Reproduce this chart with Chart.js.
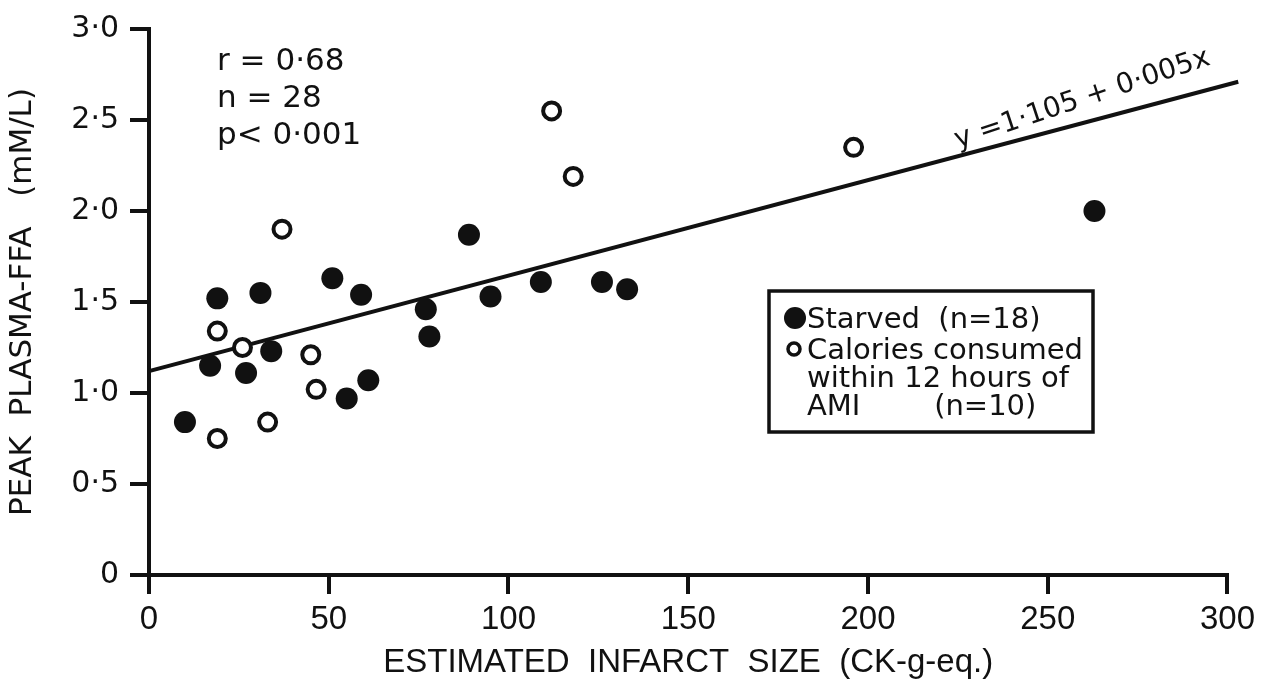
<!DOCTYPE html>
<html>
<head>
<meta charset="utf-8">
<title>Peak plasma FFA vs infarct size</title>
<script src="https://cdn.jsdelivr.net/npm/chart.js@4/dist/chart.umd.min.js"></script>
<style>
    body { margin: 0; background: #ffffff; }
    #wrap { width: 1261px; height: 685px; }
</style>
</head>
<body>
<div id="wrap"><canvas id="ffaChart" width="1261" height="685"></canvas></div>
<script>
// values
const starvedX = [10, 17, 19, 27, 31, 34, 51, 55, 59, 61, 77, 78, 89, 95, 109, 126, 133, 263];
const starvedY = [0.84, 1.15, 1.52, 1.11, 1.55, 1.23, 1.63, 0.97, 1.54, 1.07, 1.46, 1.31, 1.87, 1.53, 1.61, 1.61, 1.57, 2.00];
const fedX = [19, 19, 26, 33, 37, 45, 46.5, 112, 118, 196];
const fedY = [0.75, 1.34, 1.25, 0.84, 1.90, 1.21, 1.02, 2.55, 2.19, 2.35];
const fitX = [0, 303];
const fitY = [1.12, 2.71];
const xTickValues = [0, 50, 100, 150, 200, 250, 300];
const xTickLabels = ['0', '50', '100', '150', '200', '250', '300'];
const yTickValues = [0, 0.5, 1.0, 1.5, 2.0, 2.5, 3.0];
const yTickLabels = ['0', '0·5', '1·0', '1·5', '2·0', '2·5', '3·0'];
const statsLines = ['r = 0·68', 'n = 28', 'p< 0·001'];
const equationText = 'y =1·105 + 0·005x';
const legendStarved = ['Starved  (n=18)'];
const legendFed = ['Calories consumed', 'within 12 hours of', 'AMI        (n=10)'];

const ink = '#111111';

function toPoints(xs, ys) {
    return xs.map((x, i) => ({ x: x, y: ys[i] }));
}

// stats block, regression label and the boxed key
const notesPlugin = {
    id: 'notes',
    afterDraw(chart) {
        const ctx = chart.ctx;
        const area = chart.chartArea;
        const xs = chart.scales.x;
        const ys = chart.scales.y;
        ctx.save();
        ctx.fillStyle = ink;
        ctx.strokeStyle = ink;

        ctx.font = '31px "DejaVu Sans"';
        ctx.textAlign = 'left';
        ctx.textBaseline = 'alphabetic';
        statsLines.forEach((t, i) => {
            ctx.fillText(t, area.left + 68, area.top + 41 + i * 37);
        });

        // equation along the fitted line
        const px0 = xs.getPixelForValue(fitX[0]);
        const py0 = ys.getPixelForValue(fitY[0]);
        const px1 = xs.getPixelForValue(fitX[1]);
        const py1 = ys.getPixelForValue(fitY[1]);
        const ang = Math.atan2(py1 - py0, px1 - px0) - 0.06;
        const ex = xs.getPixelForValue(225);
        const ey = py0 + (ex - px0) * (py1 - py0) / (px1 - px0) - 8;
        ctx.save();
        ctx.translate(ex, ey);
        ctx.rotate(ang);
        ctx.font = '28px "DejaVu Sans"';
        ctx.fillText(equationText, 0, 0);
        ctx.restore();

        // key box
        const bx = 769, by = 291, bw = 324, bh = 141;
        ctx.lineWidth = 3.5;
        ctx.strokeRect(bx, by, bw, bh);
        ctx.font = '29px "DejaVu Sans"';
        ctx.beginPath();
        ctx.arc(bx + 26, by + 27, 11, 0, Math.PI * 2);
        ctx.fill();
        ctx.fillText(legendStarved[0], bx + 38, by + 37);
        ctx.beginPath();
        ctx.arc(bx + 25, by + 58, 6, 0, Math.PI * 2);
        ctx.lineWidth = 3.5;
        ctx.stroke();
        legendFed.forEach((t, i) => {
            ctx.fillText(t, bx + 38, by + 68 + i * 28);
        });
        ctx.restore();
    }
};

const ctx = document.getElementById('ffaChart').getContext('2d');
new Chart(ctx, {
    type: 'scatter',
    data: {
        datasets: [{
            label: 'Starved',
            data: toPoints(starvedX, starvedY),
            pointRadius: 11,
            pointHoverRadius: 11,
            backgroundColor: ink,
            borderColor: ink,
            borderWidth: 0,
            order: 1
        }, {
            label: 'Calories consumed within 12 hours of AMI',
            data: toPoints(fedX, fedY),
            pointRadius: 8.5,
            pointHoverRadius: 8.5,
            backgroundColor: '#ffffff',
            borderColor: ink,
            borderWidth: 4,
            order: 1
        }, {
            type: 'line',
            label: 'fit',
            data: toPoints(fitX, fitY),
            borderColor: ink,
            borderWidth: 4,
            pointRadius: 0,
            fill: false,
            clip: false,
            order: 3
        }]
    },
    options: {
        responsive: false,
        animation: false,
        layout: { padding: { left: 0, right: 29, top: 25, bottom: 0 } },
        plugins: {
            legend: { display: false },
            tooltip: { enabled: false }
        },
        scales: {
            x: {
                type: 'linear',
                min: 0,
                max: 300,
                afterFit: (scale) => { scale.height = 110; },
                afterBuildTicks: (scale) => { scale.ticks = xTickValues.map(v => ({ value: v })); },
                border: { color: ink, width: 4 },
                grid: { drawOnChartArea: false, color: ink, lineWidth: 4, tickLength: 19 },
                ticks: {
                    color: ink,
                    padding: 6,
                    font: { family: 'Liberation Sans', size: 33 },
                    callback: (v) => xTickLabels[xTickValues.indexOf(v)]
                },
                title: {
                    display: true,
                    text: 'ESTIMATED  INFARCT  SIZE  (CK-g-eq.)',
                    color: ink,
                    font: { family: 'Liberation Sans', size: 33 },
                    padding: { top: 0, bottom: 2 }
                }
            },
            y: {
                type: 'linear',
                min: 0,
                max: 3,
                afterFit: (scale) => { scale.width = 149; },
                afterBuildTicks: (scale) => { scale.ticks = yTickValues.map(v => ({ value: v })); },
                border: { color: ink, width: 4 },
                grid: { drawOnChartArea: false, color: ink, lineWidth: 4, tickLength: 19 },
                ticks: {
                    color: ink,
                    padding: 11,
                    font: { family: 'DejaVu Sans', size: 30 },
                    callback: (v) => yTickLabels[yTickValues.indexOf(v)]
                },
                title: {
                    display: true,
                    text: 'PEAK  PLASMA-FFA   (mM/L)',
                    color: ink,
                    font: { family: 'DejaVu Sans', size: 31 },
                    padding: { top: 4, bottom: 0 }
                }
            }
        }
    },
    plugins: [notesPlugin]
});
</script>
</body>
</html>
